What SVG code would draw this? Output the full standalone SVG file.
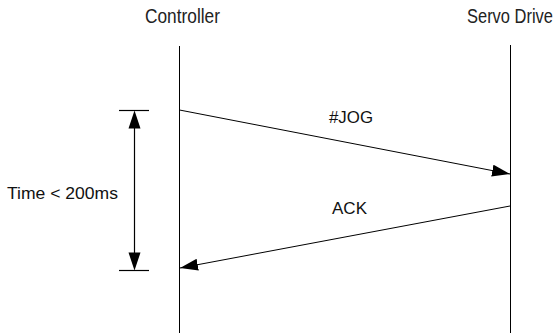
<svg xmlns="http://www.w3.org/2000/svg" width="558" height="333" viewBox="0 0 558 333">
  <style>
    .head { font-family: "Liberation Sans", Arial, sans-serif; font-size: 16.5px; fill: #222; }
    .lbl { font-family: "Liberation Sans", Arial, sans-serif; font-size: 16.5px; fill: #111; }
    .life { stroke: #000; stroke-width: 1; fill: none; }
    .msg { stroke: #000; stroke-width: 1; fill: none; marker-end: url(#arrow); }
    .dim { stroke: #000; stroke-width: 1.2; fill: none; }
  </style>
  <defs>
    <marker id="arrow" markerWidth="18" markerHeight="12" refX="18" refY="6" orient="auto" markerUnits="userSpaceOnUse">
      <path d="M0,0 L18,6 L0,12 Z" fill="#000"/>
    </marker>
  </defs>
  <rect width="558" height="333" fill="#fff"/>

  <!-- headers use a tall, narrow face: regular glyphs stretched vertically -->
  <g id="controller">
    <text class="head" transform="translate(145,23) scale(1,1.2)" textLength="75" lengthAdjust="spacingAndGlyphs">Controller</text>
    <line class="life" x1="179.5" y1="46" x2="179.5" y2="333"/>
  </g>

  <g id="servo-drive">
    <text class="head" transform="translate(467,23) scale(1,1.2)" textLength="86" lengthAdjust="spacingAndGlyphs">Servo Drive</text>
    <line class="life" x1="510.5" y1="45" x2="510.5" y2="333" stroke="#555"/>
  </g>

  <g id="timing">
    <line class="dim" x1="119" y1="110.5" x2="149" y2="110.5"/>
    <line class="dim" x1="119" y1="270.5" x2="149" y2="270.5"/>
    <line class="dim" x1="134.5" y1="126" x2="134.5" y2="254"/>
    <path d="M134.5,110.5 L128.5,128.5 L140.5,128.5 Z" fill="#000"/>
    <path d="M134.5,270.5 L128.5,252.5 L140.5,252.5 Z" fill="#000"/>
    <text class="lbl" x="7" y="199" textLength="111" lengthAdjust="spacingAndGlyphs">Time &lt; 200ms</text>
  </g>

  <g id="connectors">
    <line class="msg" x1="179.5" y1="110" x2="510" y2="174"/>
    <text class="lbl" x="329" y="123" textLength="44" lengthAdjust="spacingAndGlyphs">#JOG</text>
    <line class="msg" x1="510" y1="206" x2="180" y2="268"/>
    <text class="lbl" x="332" y="214" textLength="35" lengthAdjust="spacingAndGlyphs">ACK</text>
  </g>
</svg>
